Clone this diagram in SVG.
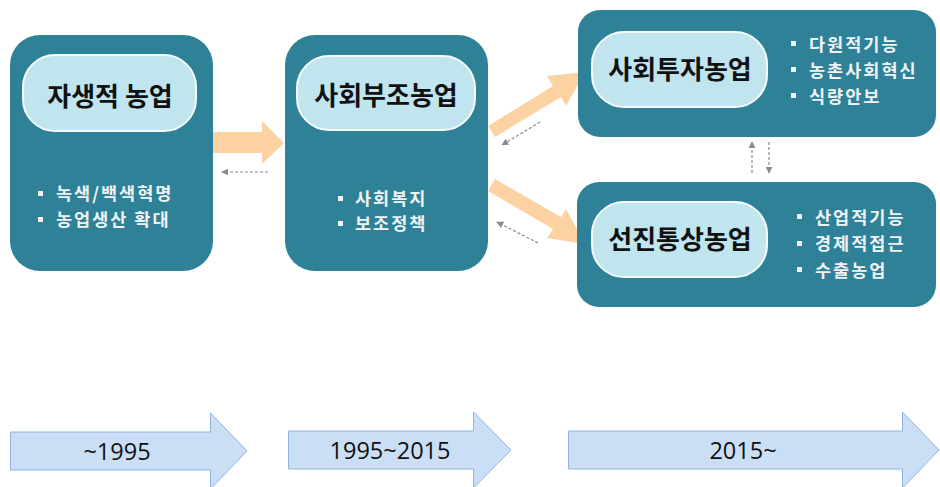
<svg xmlns="http://www.w3.org/2000/svg" width="940" height="487" viewBox="0 0 940 487">
<defs>
<style>
.box{fill:#2e8197;}
.pill{fill:#c0e5ef;stroke:#f4fbfd;stroke-width:2;}
.title{font-family:"Noto Sans CJK KR","Noto Sans",sans-serif;font-size:26px;font-weight:bold;fill:#111;text-anchor:middle;}
.item{font-family:"Noto Sans CJK KR","Noto Sans",sans-serif;font-size:17.5px;letter-spacing:2px;font-weight:bold;fill:#eef4f6;}
.sq{fill:#eef4f6;}
.flow{fill:#fdd2a3;}
.dash{stroke:#8a8a8a;stroke-width:1.2;stroke-dasharray:3 2;fill:none;marker-end:url(#ah);}
.tl{fill:#cadff5;stroke:#8fb4e0;stroke-width:1;}
.tlt{font-family:"Open Sans","Liberation Sans",sans-serif;font-size:23.5px;fill:#111;text-anchor:middle;}
</style>
<marker id="ah" viewBox="0 0 10 10" refX="9" refY="5" markerWidth="7" markerHeight="7" orient="auto" markerUnits="userSpaceOnUse">
<path d="M0,0 L10,5 L0,10 z" fill="#8a8a8a"/>
</marker>
</defs>

<g id="connectors">
<polygon class="flow" points="213,132 262,132 262,121 284,143 262,164 262,153 213,153"/>
<polygon class="flow" points="488,126 553,86 547,76 585,72 566,106 561,97 495,137"/>
<polygon class="flow" points="495,179 561,217 566,209 585,244 547,238 553,229 488,191"/>
<line class="dash" x1="268" y1="172" x2="222" y2="172"/>
<line class="dash" x1="540" y1="122" x2="502" y2="145"/>
<line class="dash" x1="538" y1="243" x2="497" y2="222"/>
<line class="dash" x1="752" y1="173" x2="752" y2="142"/>
<line class="dash" x1="769" y1="142" x2="769" y2="173"/>
</g>

<g id="node1">
<rect class="box" x="10" y="35" width="203" height="236" rx="30"/>
<rect class="pill" x="23" y="55" width="173" height="76" rx="32"/>
<text class="title" x="110" y="106">자생적 농업</text>
<rect class="sq" x="38" y="191" width="5" height="5"/>
<text class="item" x="56" y="200">녹색/백색혁명</text>
<rect class="sq" x="38" y="217" width="5" height="5"/>
<text class="item" x="56" y="226">농업생산 확대</text>
</g>

<g id="node2">
<rect class="box" x="285" y="35" width="203" height="236" rx="30"/>
<rect class="pill" x="297" y="56" width="178" height="74" rx="32"/>
<text class="title" x="386" y="105">사회부조농업</text>
<rect class="sq" x="338" y="196" width="5" height="5"/>
<text class="item" x="355" y="205">사회복지</text>
<rect class="sq" x="338" y="221" width="5" height="5"/>
<text class="item" x="355" y="230">보조정책</text>
</g>

<g id="node3">
<rect class="box" x="578" y="10" width="358" height="127" rx="22"/>
<rect class="pill" x="592" y="32" width="175" height="75" rx="32"/>
<text class="title" x="680" y="79">사회투자농업</text>
<rect class="sq" x="791" y="41" width="5" height="5"/>
<text class="item" x="809" y="51">다원적기능</text>
<rect class="sq" x="791" y="67" width="5" height="5"/>
<text class="item" x="809" y="77">농촌사회혁신</text>
<rect class="sq" x="791" y="93" width="5" height="5"/>
<text class="item" x="809" y="103">식량안보</text>
</g>

<g id="node4">
<rect class="box" x="577" y="182" width="359" height="125" rx="22"/>
<rect class="pill" x="592" y="202" width="175" height="75" rx="32"/>
<text class="title" x="680" y="249">선진통상농업</text>
<rect class="sq" x="797" y="214" width="5" height="5"/>
<text class="item" x="815" y="224">산업적기능</text>
<rect class="sq" x="797" y="241" width="5" height="5"/>
<text class="item" x="815" y="250">경제적접근</text>
<rect class="sq" x="797" y="267" width="5" height="5"/>
<text class="item" x="815" y="277">수출농업</text>
</g>

<g id="timeline1">
<polygon class="tl" points="10.5,432 210.5,432 210.5,413 247,451 210.5,489 210.5,470 10.5,470"/>
<text class="tlt" x="117" y="460">~1995</text>
</g>
<g id="timeline2">
<polygon class="tl" points="288.5,431 473.5,431 473.5,412 511,450 473.5,488 473.5,469 288.5,469"/>
<text class="tlt" x="390" y="459">1995~2015</text>
</g>
<g id="timeline3">
<polygon class="tl" points="568.5,431 902.5,431 902.5,412 939,450 902.5,488 902.5,469 568.5,469"/>
<text class="tlt" x="743" y="459">2015~</text>
</g>
</svg>
